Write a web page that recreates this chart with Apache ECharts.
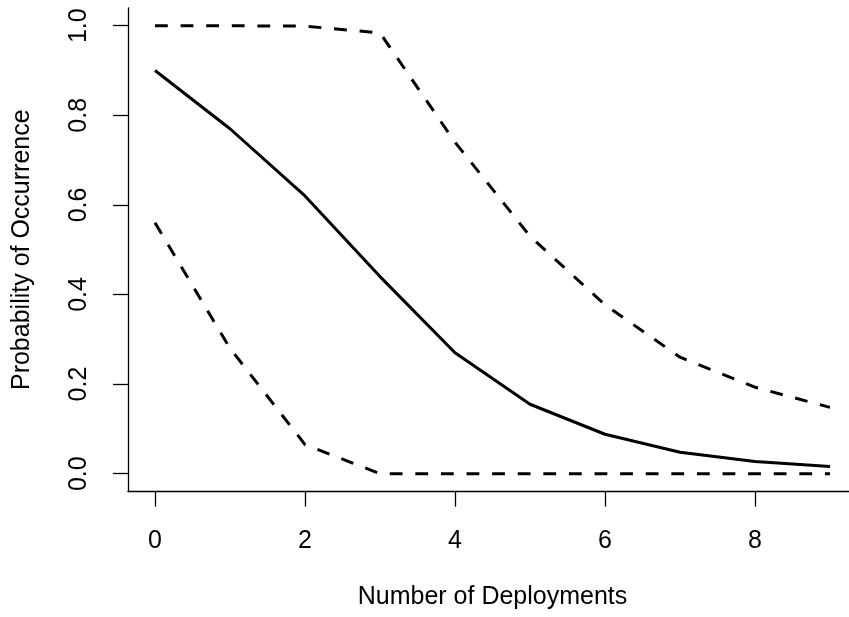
<!DOCTYPE html>
<html>
<head>
<meta charset="utf-8">
<script src="https://cdn.jsdelivr.net/npm/echarts@6/dist/echarts.min.js"></script>
<style>
html,body{margin:0;padding:0;background:#fff;}
#chart{width:849px;height:617px;}
</style>
</head>
<body>
<div id="chart"></div>
<script>
var deployments = [0, 1, 2, 3, 4, 5, 6, 7, 8, 9];
var meanProb = [0.90, 0.77, 0.62, 0.44, 0.27, 0.155, 0.088, 0.048, 0.027, 0.016];
var upperProb = [1.0, 1.0, 0.999, 0.984, 0.74, 0.53, 0.377, 0.26, 0.193, 0.148];
var lowerProb = [0.56, 0.28, 0.065, 0.0, 0.0, 0.0, 0.0, 0.0, 0.0, 0.0];
var xTicks = [0, 2, 4, 6, 8];
var yTicks = [0, 0.2, 0.4, 0.6, 0.8, 1.0];
var xTitle = 'Number of Deployments';
var yTitle = 'Probability of Occurrence';

function pairs(xs, ys) { return xs.map(function (x, i) { return [x, ys[i]]; }); }

var FONT = "'Liberation Sans', Arial, Helvetica, sans-serif";
var FS = 25;
var dash = [12.8, 12.8];

var chart = echarts.init(document.getElementById('chart'), null, {renderer: 'canvas'});
chart.setOption({
  animation: false,
  backgroundColor: '#ffffff',
  grid: {left: 128, top: 7.8, right: -8, bottom: 125.4, containLabel: false, outerBoundsMode: 'none'},
  xAxis: {
    type: 'value', min: -0.36, max: 9.36,
    name: xTitle, nameLocation: 'middle', nameGap: 93,
    nameTextStyle: {color: '#000', fontSize: FS, fontFamily: FONT},
    axisLine: {show: true, onZero: false, lineStyle: {color: '#000', width: 1.3}},
    axisTick: {show: true, inside: false, length: 15, customValues: xTicks, lineStyle: {color: '#000', width: 1.3}},
    axisLabel: {show: true, customValues: xTicks, margin: 37, color: '#000', fontSize: FS, fontFamily: FONT,
      formatter: function (v) { return String(v); }},
    splitLine: {show: false}
  },
  yAxis: {
    type: 'value', min: -0.04, max: 1.04,
    name: yTitle, nameLocation: 'middle', nameGap: 93,
    nameTextStyle: {color: '#000', fontSize: FS, fontFamily: FONT},
    axisLine: {show: true, onZero: false, lineStyle: {color: '#000', width: 1.3}},
    axisTick: {show: true, inside: false, length: 15, customValues: yTicks, lineStyle: {color: '#000', width: 1.3}},
    axisLabel: {show: true, customValues: yTicks, rotate: 90, margin: 36, color: '#000', fontSize: FS, fontFamily: FONT,
      formatter: function (v) { return Number(v).toFixed(1); }},
    splitLine: {show: false}
  },
  series: [
    {type: 'line', data: pairs(deployments, meanProb), symbol: 'none', silent: true,
      lineStyle: {color: '#000', width: 3, type: 'solid', cap: 'butt', join: 'round'}},
    {type: 'line', data: pairs(deployments, upperProb), symbol: 'none', silent: true,
      lineStyle: {color: '#000', width: 3, type: dash, cap: 'butt', join: 'round'}},
    {type: 'line', data: pairs(deployments, lowerProb), symbol: 'none', silent: true,
      lineStyle: {color: '#000', width: 3, type: dash, cap: 'butt', join: 'round'}}
  ]
});
</script>
</body>
</html>
